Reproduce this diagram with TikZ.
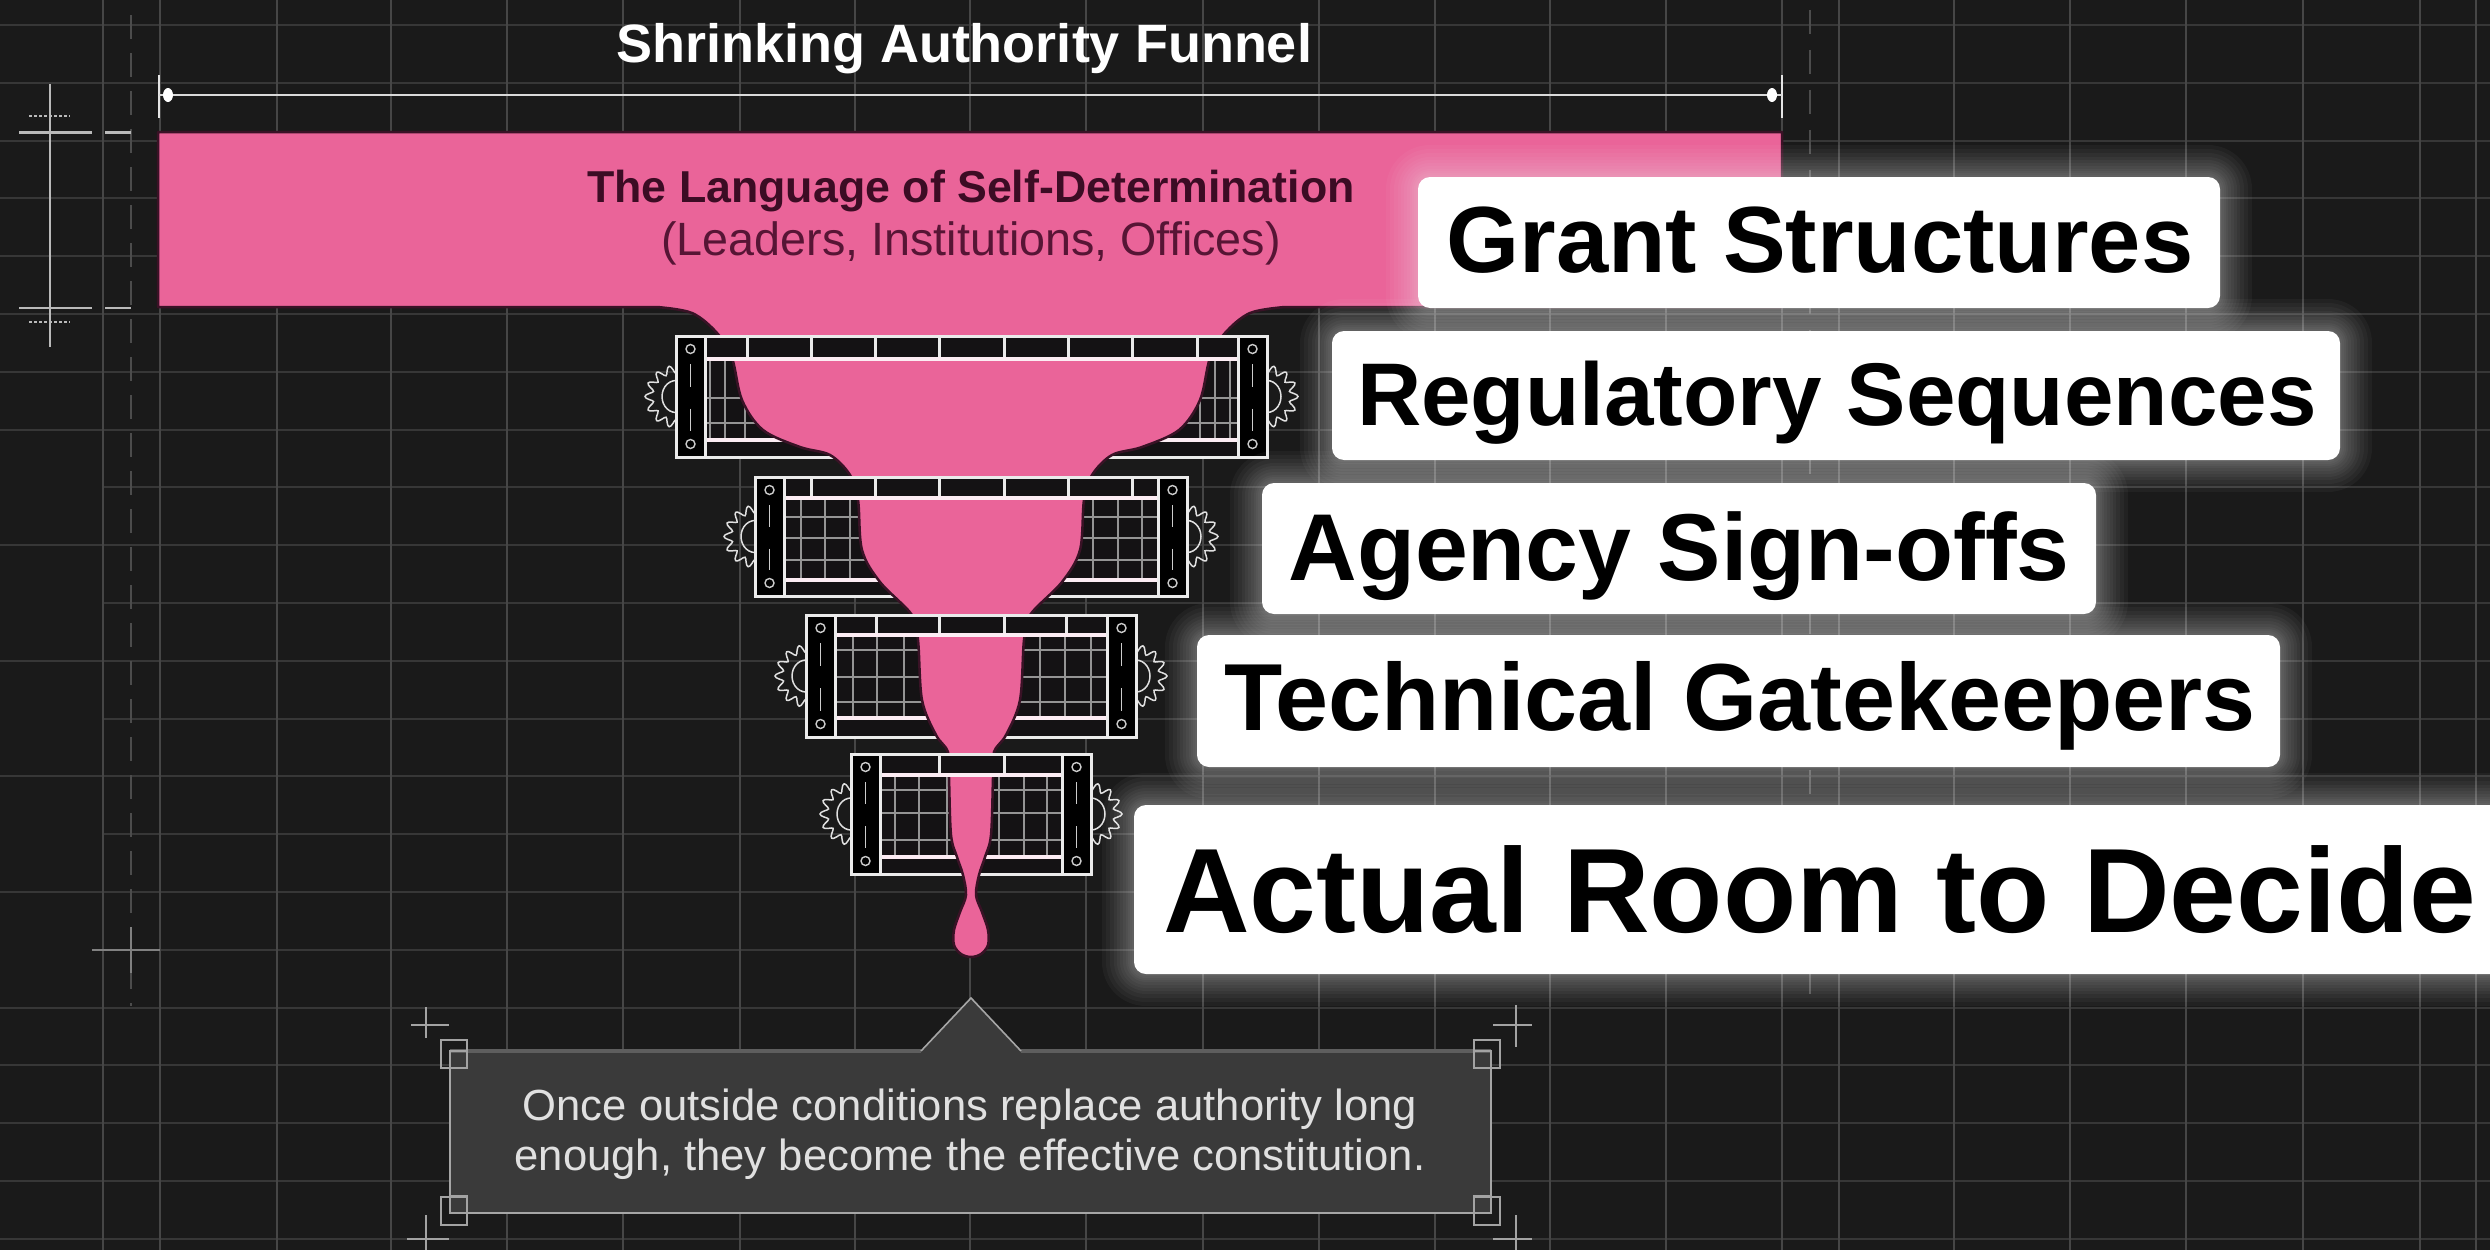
\documentclass[tikz,border=0pt]{standalone}
\usepackage{fontspec}
\setmainfont{Liberation Sans}
\definecolor{bgdark}{HTML}{1A1A1A}
\definecolor{gridh}{HTML}{373737}
\definecolor{gridv}{HTML}{464646}
\definecolor{funnelpink}{HTML}{EA6499}
\definecolor{pinkedge}{HTML}{3A1226}
\definecolor{wineink}{HTML}{3C0C24}
\definecolor{wineink2}{HTML}{571535}
\definecolor{calloutfill}{HTML}{3A3A3A}
\definecolor{calloutedge}{HTML}{A6A6A6}
\definecolor{calloutdim}{HTML}{5E5E5E}
\definecolor{framedark}{HTML}{141214}
\tikzset{
  gridhline/.style={gridh,line width=2pt},
  gridvline/.style={gridv,line width=1.5pt},
  faint/.style={white!22!bgdark,line width=2pt},
  annot/.style={white!70!bgdark,line width=2pt},
  frameline/.style={white!92!black,line width=3pt},
  barline/.style={white!88!funnelpink,line width=4.5pt},
  thinmesh/.style={white!58!black,line width=1.5pt},
  gearline/.style={white!88!black,line width=1.5pt},
  tickmark/.style={white!80!black,line width=1.4pt},
  labeltext/.style={anchor=base,inner sep=0pt,font=\bfseries,text=black},
  cornermark/.style={white!60!bgdark,line width=1.5pt},
}
% xl xr yt yb strip-top mesh-x mesh-y
\newcommand{\funnelbase}[7]{%
  \foreach \sd/\xe in {-1/#1,1/#2}{
    \draw[gearline] plot[smooth,domain=-90:90,samples=57,variable=\a]
      ({\xe+\sd*(27+4*cos(14*\a))*cos(\a)},{(#3+#4)/2+(27+4*cos(14*\a))*sin(\a)});
    \draw[gearline] plot[smooth,domain=-90:90,samples=15,variable=\a]
      ({\xe+\sd*14*cos(\a)},{(#3+#4)/2+16*sin(\a)});
  }
  \fill[framedark] (#1,#3) rectangle (#2,#4);
  \foreach \v in {#6}{\draw[thinmesh] (\v,#3+20) -- (\v,#5);}
  \foreach \v in {#7}{\draw[thinmesh] (#1+29,\v) -- (#2-29,\v);}
  \draw[barline] (#1+29,#5) -- (#2-29,#5);
  \draw[frameline] (#1,#3) rectangle (#2,#4);
}
% xl xr yt yb bar-bottom dividers
\newcommand{\funneltop}[6]{%
  \fill[framedark] (#1,#3) rectangle (#2,#5);
  \foreach \v in {#6}{\draw[frameline] (\v,#3) -- (\v,#5);}
  \draw[frameline] (#1,#3) -- (#2,#3);
  \draw[barline] (#1+29,#5) -- (#2-29,#5);
  \foreach \pa/\pb in {#1/#1+29,#2-29/#2}{
    \fill[black] (\pa,#3) rectangle (\pb,#4);
    \draw[frameline] (\pa,#3) rectangle (\pb,#4);
    \draw[tickmark] ({(\pa+\pb)/2},#3+13) circle (4.5);
    \draw[tickmark] ({(\pa+\pb)/2},#4-13) circle (4.5);
    \draw[tickmark] ({(\pa+\pb)/2},#3+28) -- ({(\pa+\pb)/2},{(#3+#4)/2-10});
    \draw[tickmark] ({(\pa+\pb)/2},{(#3+#4)/2+12}) -- ({(\pa+\pb)/2},#4-26);
  }
}
% name x1 y1 x2 y2
\newcommand{\glowbox}[5]{%
  \foreach \g [evaluate=\g as \r using 12+\g] in {32,28,24,20,17,14,11,8,6,4,2}{
    \fill[white,opacity=.035,rounded corners=\r pt] (#2-\g,#3-\g) rectangle (#4+\g,#5+\g);
  }
  \node[fill=white,rounded corners=12pt,inner sep=0pt,minimum width=#4-#2,minimum height=#5-#3] (#1) at ({(#2+#4)/2},{(#3+#5)/2}) {};
}
\begin{document}
\begin{tikzpicture}[x=1pt,y=-1pt]
\useasboundingbox (0,0) rectangle (2490,1250);
\clip (0,0) rectangle (2490,1250);
\fill[bgdark] (0,0) rectangle (2490,1250);
% grid
\foreach \k in {0,...,7,9,11,13,15,17,18,19,20,21}{\draw[gridhline] (0,{25+57.8*\k}) -- (2490,{25+57.8*\k});}
\foreach \k in {8,10,12,14,16}{\draw[gridhline] (103,{25+57.8*\k}) -- (2490,{25+57.8*\k});}
\foreach \v in {103,160,277,391,507,623,740,855,970,1086,1203,1319,1435,1550,1666,1782,1839,1954,2070,2186,2303,2420,2476}{\draw[gridvline] (\v,0) -- (\v,1250);}
\draw[faint,dash pattern=on 24pt off 14pt] (131,15) -- (131,1006);
\draw[faint,line width=1.5pt,dash pattern=on 24pt off 16pt] (1810,10) -- (1810,1000);
\draw[white!45!bgdark,line width=1.5pt] (131,927) -- (131,973) (92,950) -- (160,950);
% left annotation
\draw[annot] (50,84) -- (50,347);
\draw[annot,line width=3pt] (19,132) -- (92,132) (105,132) -- (131,132);
\draw[annot,line width=2.5pt] (19,308) -- (92,308) (105,308) -- (131,308);
\draw[annot,dash pattern=on 3pt off 2pt,line width=1.5pt] (29,116) -- (70,116) (29,322) -- (70,322);
% frames, lower layer
\funnelbase{676}{1267}{336}{457}{440}{710,725,745,1200,1215,1230}{398,423}
\funnelbase{755}{1187}{477}{596}{580}{801,825,850,1093,1118,1142}{517,538,560}
\funnelbase{806}{1136}{615}{737}{718}{853,877,904,1040,1065,1091}{650,677,702}
\funnelbase{851}{1091}{754}{874}{857}{895,919,947,999,1024,1047}{790,813,840}
% funnel
\path[fill=funnelpink,draw=pinkedge,line width=2.5pt,line join=round]
  (158,132) -- (1782,132) -- (1782,307) -- (1285,307)
  -- plot[smooth,tension=.55] coordinates {(1285,307) (1250,313) (1225,333) (1210,358) (1200,400) (1179,430) (1142,447) (1112,455) (1092,475) (1084,500) (1080,550) (1062,582) (1030,615) (1024,640) (1020,700) (1006,735) (994,752) (993,778) (991,835) (985,857) (979,875) (976,895) (982,912) (988,930) (988,945) (981,954) (971,957) (961,954) (954,945) (954,930) (960,912) (966,895) (963,875) (957,857) (951,835) (949,778) (948,752) (936,735) (922,700) (918,640) (912,615) (880,582) (862,550) (858,500) (850,475) (830,455) (800,447) (763,430) (742,400) (732,358) (717,333) (692,313) (657,307)}
  -- (158,307) -- cycle;
% frames, upper layer
\funneltop{676}{1267}{336}{457}{359}{747,811,875,939,1004,1068,1132,1197}
\funneltop{755}{1187}{477}{596}{498}{811,875,939,1004,1068,1132}
\funneltop{806}{1136}{615}{737}{635}{876,939,1004,1066}
\funneltop{851}{1091}{754}{874}{775}{939,1004}
% title and measure
\coordinate (dimL) at (159,95);
\coordinate (dimR) at (1782,95);
\draw[white!90!black,line width=2.5pt] (159,75) -- (159,118) (1782,75) -- (1782,118);
\draw[white!85!black,line width=2.5pt] (dimL) -- (dimR);
\fill[white] (dimL) ++(9,0) ellipse (5 and 7);
\fill[white] (dimR) ++(-10,0) ellipse (5 and 7);
\node[anchor=base,inner sep=0pt,font=\bfseries\fontsize{54}{54}\selectfont,text=white] (title) at (964,62) {Shrinking Authority Funnel};
\node[anchor=base,inner sep=0pt,font=\bfseries\fontsize{44.7}{45}\selectfont,text=wineink] (lang) at (971,202) {The Language of Self-Determination};
\node[anchor=base,inner sep=0pt,font=\fontsize{46.7}{47}\selectfont,text=wineink2] (lead) at (971,255) {(Leaders, Institutions, Offices)};
% labels
\glowbox{bgrant}{1418}{177}{2220}{308}
\node[labeltext,font=\bfseries\fontsize{94}{94}\selectfont] (grant) at (1820,272) {Grant Structures};
\glowbox{breg}{1332}{331}{2340}{460}
\node[labeltext,font=\bfseries\fontsize{89}{89}\selectfont] (reg) at (1837,425) {Regulatory Sequences};
\glowbox{bagency}{1262}{483}{2096}{614}
\node[labeltext,font=\bfseries\fontsize{95}{95}\selectfont] (agency) at (1679,580) {Agency Sign-offs};
\glowbox{btech}{1197}{635}{2280}{767}
\node[labeltext,font=\bfseries\fontsize{95.3}{96}\selectfont] (tech) at (1740,730) {Technical Gatekeepers};
\glowbox{bactual}{1134}{805}{2540}{974}
\node[labeltext,font=\bfseries\fontsize{120}{120}\selectfont] (actual) at (1820,932) {Actual Room to Decide};
% callout
\path[fill=calloutfill] (450,1051) -- (921,1051) -- (971,998) -- (1021,1051) -- (1491,1051) -- (1491,1213) -- (450,1213) -- cycle;
\draw[calloutdim,line width=4pt] (450,1051) -- (921,1051) (1021,1051) -- (1491,1051);
\draw[calloutedge,line width=1.6pt] (921,1051) -- (971,998) -- (1021,1051);
\draw[calloutedge,line width=2.2pt] (450,1051) -- (450,1213) -- (1491,1213) -- (1491,1051);
\foreach \ox/\oy/\ix/\iy in {441/1040/450/1051,1474/1040/1474/1051,441/1197/450/1196,1474/1197/1474/1196}{
  \draw[cornermark] (\ox,\oy) rectangle ++(26,28);
  \draw[cornermark] (\ix,\iy) rectangle ++(17,17);
}
\draw[cornermark] (426,1007) -- (426,1038) (411,1025) -- (449,1025);
\draw[cornermark] (1516,1005) -- (1516,1047) (1493,1025) -- (1532,1025);
\draw[cornermark] (426,1215) -- (426,1250) (407,1239) -- (449,1239);
\draw[cornermark] (1516,1215) -- (1516,1250) (1493,1239) -- (1532,1239);
\node[anchor=base,inner sep=0pt,font=\fontsize{43.6}{44}\selectfont,text=white!88!black] (note1) at (970,1120) {Once outside conditions replace authority long};
\node[anchor=base,inner sep=0pt,font=\fontsize{43.6}{44}\selectfont,text=white!88!black] (note2) at (970,1170) {enough, they become the effective constitution.};
\end{tikzpicture}
\end{document}
